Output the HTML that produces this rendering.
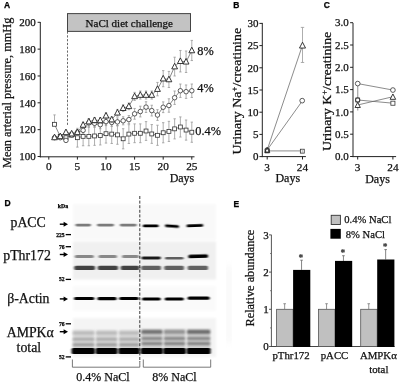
<!DOCTYPE html>
<html><head><meta charset="utf-8"><title>Figure</title>
<style>html,body{margin:0;padding:0;background:#fff;}svg{display:block;will-change:transform;}</style></head>
<body>
<svg width="400" height="385" viewBox="0 0 400 385">
<rect width="400" height="385" fill="#fff"/>
<text x="4" y="7.9" font-size="8.5" text-anchor="start" font-family="Liberation Sans, sans-serif" fill="#000" stroke="#000" stroke-width="0.25" font-weight="bold">A</text>
<text x="233.2" y="7.6" font-size="8.5" text-anchor="start" font-family="Liberation Sans, sans-serif" fill="#000" stroke="#000" stroke-width="0.25" font-weight="bold">B</text>
<text x="323.7" y="7.6" font-size="8.5" text-anchor="start" font-family="Liberation Sans, sans-serif" fill="#000" stroke="#000" stroke-width="0.25" font-weight="bold">C</text>
<text x="4.6" y="206.4" font-size="8.5" text-anchor="start" font-family="Liberation Sans, sans-serif" fill="#000" stroke="#000" stroke-width="0.25" font-weight="bold">D</text>
<text x="233.5" y="206.8" font-size="8.5" text-anchor="start" font-family="Liberation Sans, sans-serif" fill="#000" stroke="#000" stroke-width="0.25" font-weight="bold">E</text>
<rect x="67.5" y="13.6" width="123" height="17.8" fill="#c3c3c3" stroke="#444" stroke-width="1"/>
<text x="129.3" y="26.5" font-size="11" text-anchor="middle" font-family="Liberation Serif, serif" fill="#111" stroke="#111" stroke-width="0.25" >NaCl diet challenge</text>
<line x1="67.50" y1="31.50" x2="67.50" y2="125.00" stroke="#444" stroke-width="0.8" stroke-dasharray="2.2,1.6"/>
<line x1="40.30" y1="22.00" x2="40.30" y2="157.30" stroke="#222" stroke-width="1" />
<line x1="39.80" y1="156.80" x2="194.50" y2="156.80" stroke="#222" stroke-width="1" />
<line x1="37.60" y1="156.50" x2="40.30" y2="156.50" stroke="#222" stroke-width="1" />
<text x="35.8" y="160.3" font-size="11" text-anchor="end" font-family="Liberation Serif, serif" fill="#111" stroke="#111" stroke-width="0.25" >100</text>
<line x1="37.60" y1="129.66" x2="40.30" y2="129.66" stroke="#222" stroke-width="1" />
<text x="35.8" y="133.46" font-size="11" text-anchor="end" font-family="Liberation Serif, serif" fill="#111" stroke="#111" stroke-width="0.25" >120</text>
<line x1="37.60" y1="102.82" x2="40.30" y2="102.82" stroke="#222" stroke-width="1" />
<text x="35.8" y="106.61999999999999" font-size="11" text-anchor="end" font-family="Liberation Serif, serif" fill="#111" stroke="#111" stroke-width="0.25" >140</text>
<line x1="37.60" y1="75.98" x2="40.30" y2="75.98" stroke="#222" stroke-width="1" />
<text x="35.8" y="79.77999999999999" font-size="11" text-anchor="end" font-family="Liberation Serif, serif" fill="#111" stroke="#111" stroke-width="0.25" >160</text>
<line x1="37.60" y1="49.14" x2="40.30" y2="49.14" stroke="#222" stroke-width="1" />
<text x="35.8" y="52.93999999999998" font-size="11" text-anchor="end" font-family="Liberation Serif, serif" fill="#111" stroke="#111" stroke-width="0.25" >180</text>
<line x1="37.60" y1="22.30" x2="40.30" y2="22.30" stroke="#222" stroke-width="1" />
<text x="35.8" y="26.099999999999984" font-size="11" text-anchor="end" font-family="Liberation Serif, serif" fill="#111" stroke="#111" stroke-width="0.25" >200</text>
<line x1="48.80" y1="156.80" x2="48.80" y2="159.60" stroke="#222" stroke-width="1" />
<text x="48.8" y="170.4" font-size="11.3" text-anchor="middle" font-family="Liberation Serif, serif" fill="#111" stroke="#111" stroke-width="0.25" >0</text>
<line x1="77.40" y1="156.80" x2="77.40" y2="159.60" stroke="#222" stroke-width="1" />
<text x="77.39999999999999" y="170.4" font-size="11.3" text-anchor="middle" font-family="Liberation Serif, serif" fill="#111" stroke="#111" stroke-width="0.25" >5</text>
<line x1="106.00" y1="156.80" x2="106.00" y2="159.60" stroke="#222" stroke-width="1" />
<text x="106.0" y="170.4" font-size="11.3" text-anchor="middle" font-family="Liberation Serif, serif" fill="#111" stroke="#111" stroke-width="0.25" >10</text>
<line x1="134.60" y1="156.80" x2="134.60" y2="159.60" stroke="#222" stroke-width="1" />
<text x="134.6" y="170.4" font-size="11.3" text-anchor="middle" font-family="Liberation Serif, serif" fill="#111" stroke="#111" stroke-width="0.25" >15</text>
<line x1="163.20" y1="156.80" x2="163.20" y2="159.60" stroke="#222" stroke-width="1" />
<text x="163.2" y="170.4" font-size="11.3" text-anchor="middle" font-family="Liberation Serif, serif" fill="#111" stroke="#111" stroke-width="0.25" >20</text>
<line x1="191.80" y1="156.80" x2="191.80" y2="159.60" stroke="#222" stroke-width="1" />
<text x="191.8" y="170.4" font-size="11.3" text-anchor="middle" font-family="Liberation Serif, serif" fill="#111" stroke="#111" stroke-width="0.25" >25</text>
<text x="194.3" y="181.7" font-size="12" text-anchor="end" font-family="Liberation Serif, serif" fill="#111" stroke="#111" stroke-width="0.25" >Days</text>
<text transform="translate(10.7,92.85) rotate(-90)" font-size="12.8" text-anchor="middle" font-family="Liberation Serif, serif" fill="#111" stroke="#111" stroke-width="0.25" textLength="150.3" lengthAdjust="spacingAndGlyphs">Mean arterial pressure, mmHg</text>
<line x1="54.52" y1="114.90" x2="54.52" y2="124.29" stroke="#999" stroke-width="0.8" />
<line x1="53.32" y1="114.90" x2="55.72" y2="114.90" stroke="#999" stroke-width="0.8" />
<line x1="60.24" y1="135.03" x2="60.24" y2="137.71" stroke="#999" stroke-width="0.8" />
<line x1="59.04" y1="135.03" x2="61.44" y2="135.03" stroke="#999" stroke-width="0.8" />
<line x1="59.04" y1="137.71" x2="61.44" y2="137.71" stroke="#999" stroke-width="0.8" />
<line x1="65.96" y1="136.37" x2="65.96" y2="139.05" stroke="#999" stroke-width="0.8" />
<line x1="64.76" y1="136.37" x2="67.16" y2="136.37" stroke="#999" stroke-width="0.8" />
<line x1="64.76" y1="139.05" x2="67.16" y2="139.05" stroke="#999" stroke-width="0.8" />
<line x1="71.68" y1="133.69" x2="71.68" y2="136.37" stroke="#999" stroke-width="0.8" />
<line x1="70.48" y1="133.69" x2="72.88" y2="133.69" stroke="#999" stroke-width="0.8" />
<line x1="70.48" y1="136.37" x2="72.88" y2="136.37" stroke="#999" stroke-width="0.8" />
<line x1="77.40" y1="128.32" x2="77.40" y2="147.11" stroke="#999" stroke-width="0.8" />
<line x1="76.20" y1="128.32" x2="78.60" y2="128.32" stroke="#999" stroke-width="0.8" />
<line x1="76.20" y1="147.11" x2="78.60" y2="147.11" stroke="#999" stroke-width="0.8" />
<line x1="83.12" y1="126.98" x2="83.12" y2="145.76" stroke="#999" stroke-width="0.8" />
<line x1="81.92" y1="126.98" x2="84.32" y2="126.98" stroke="#999" stroke-width="0.8" />
<line x1="81.92" y1="145.76" x2="84.32" y2="145.76" stroke="#999" stroke-width="0.8" />
<line x1="88.84" y1="126.98" x2="88.84" y2="145.76" stroke="#999" stroke-width="0.8" />
<line x1="87.64" y1="126.98" x2="90.04" y2="126.98" stroke="#999" stroke-width="0.8" />
<line x1="87.64" y1="145.76" x2="90.04" y2="145.76" stroke="#999" stroke-width="0.8" />
<line x1="94.56" y1="126.57" x2="94.56" y2="145.36" stroke="#999" stroke-width="0.8" />
<line x1="93.36" y1="126.57" x2="95.76" y2="126.57" stroke="#999" stroke-width="0.8" />
<line x1="93.36" y1="145.36" x2="95.76" y2="145.36" stroke="#999" stroke-width="0.8" />
<line x1="100.28" y1="126.17" x2="100.28" y2="144.96" stroke="#999" stroke-width="0.8" />
<line x1="99.08" y1="126.17" x2="101.48" y2="126.17" stroke="#999" stroke-width="0.8" />
<line x1="99.08" y1="144.96" x2="101.48" y2="144.96" stroke="#999" stroke-width="0.8" />
<line x1="106.00" y1="124.29" x2="106.00" y2="143.08" stroke="#999" stroke-width="0.8" />
<line x1="104.80" y1="124.29" x2="107.20" y2="124.29" stroke="#999" stroke-width="0.8" />
<line x1="104.80" y1="143.08" x2="107.20" y2="143.08" stroke="#999" stroke-width="0.8" />
<line x1="111.72" y1="124.69" x2="111.72" y2="143.48" stroke="#999" stroke-width="0.8" />
<line x1="110.52" y1="124.69" x2="112.92" y2="124.69" stroke="#999" stroke-width="0.8" />
<line x1="110.52" y1="143.48" x2="112.92" y2="143.48" stroke="#999" stroke-width="0.8" />
<line x1="117.44" y1="125.50" x2="117.44" y2="144.29" stroke="#999" stroke-width="0.8" />
<line x1="116.24" y1="125.50" x2="118.64" y2="125.50" stroke="#999" stroke-width="0.8" />
<line x1="116.24" y1="144.29" x2="118.64" y2="144.29" stroke="#999" stroke-width="0.8" />
<line x1="123.16" y1="128.72" x2="123.16" y2="148.85" stroke="#999" stroke-width="0.8" />
<line x1="121.96" y1="128.72" x2="124.36" y2="128.72" stroke="#999" stroke-width="0.8" />
<line x1="121.96" y1="148.85" x2="124.36" y2="148.85" stroke="#999" stroke-width="0.8" />
<line x1="128.88" y1="124.69" x2="128.88" y2="143.48" stroke="#999" stroke-width="0.8" />
<line x1="127.68" y1="124.69" x2="130.08" y2="124.69" stroke="#999" stroke-width="0.8" />
<line x1="127.68" y1="143.48" x2="130.08" y2="143.48" stroke="#999" stroke-width="0.8" />
<line x1="134.60" y1="123.89" x2="134.60" y2="142.68" stroke="#999" stroke-width="0.8" />
<line x1="133.40" y1="123.89" x2="135.80" y2="123.89" stroke="#999" stroke-width="0.8" />
<line x1="133.40" y1="142.68" x2="135.80" y2="142.68" stroke="#999" stroke-width="0.8" />
<line x1="140.32" y1="123.89" x2="140.32" y2="142.68" stroke="#999" stroke-width="0.8" />
<line x1="139.12" y1="123.89" x2="141.52" y2="123.89" stroke="#999" stroke-width="0.8" />
<line x1="139.12" y1="142.68" x2="141.52" y2="142.68" stroke="#999" stroke-width="0.8" />
<line x1="146.04" y1="121.61" x2="146.04" y2="140.40" stroke="#999" stroke-width="0.8" />
<line x1="144.84" y1="121.61" x2="147.24" y2="121.61" stroke="#999" stroke-width="0.8" />
<line x1="144.84" y1="140.40" x2="147.24" y2="140.40" stroke="#999" stroke-width="0.8" />
<line x1="151.76" y1="124.56" x2="151.76" y2="143.35" stroke="#999" stroke-width="0.8" />
<line x1="150.56" y1="124.56" x2="152.96" y2="124.56" stroke="#999" stroke-width="0.8" />
<line x1="150.56" y1="143.35" x2="152.96" y2="143.35" stroke="#999" stroke-width="0.8" />
<line x1="157.48" y1="125.23" x2="157.48" y2="145.36" stroke="#999" stroke-width="0.8" />
<line x1="156.28" y1="125.23" x2="158.68" y2="125.23" stroke="#999" stroke-width="0.8" />
<line x1="156.28" y1="145.36" x2="158.68" y2="145.36" stroke="#999" stroke-width="0.8" />
<line x1="163.20" y1="122.68" x2="163.20" y2="142.81" stroke="#999" stroke-width="0.8" />
<line x1="162.00" y1="122.68" x2="164.40" y2="122.68" stroke="#999" stroke-width="0.8" />
<line x1="162.00" y1="142.81" x2="164.40" y2="142.81" stroke="#999" stroke-width="0.8" />
<line x1="168.92" y1="121.34" x2="168.92" y2="141.47" stroke="#999" stroke-width="0.8" />
<line x1="167.72" y1="121.34" x2="170.12" y2="121.34" stroke="#999" stroke-width="0.8" />
<line x1="167.72" y1="141.47" x2="170.12" y2="141.47" stroke="#999" stroke-width="0.8" />
<line x1="174.64" y1="118.79" x2="174.64" y2="138.92" stroke="#999" stroke-width="0.8" />
<line x1="173.44" y1="118.79" x2="175.84" y2="118.79" stroke="#999" stroke-width="0.8" />
<line x1="173.44" y1="138.92" x2="175.84" y2="138.92" stroke="#999" stroke-width="0.8" />
<line x1="180.36" y1="116.91" x2="180.36" y2="137.04" stroke="#999" stroke-width="0.8" />
<line x1="179.16" y1="116.91" x2="181.56" y2="116.91" stroke="#999" stroke-width="0.8" />
<line x1="179.16" y1="137.04" x2="181.56" y2="137.04" stroke="#999" stroke-width="0.8" />
<line x1="186.08" y1="120.00" x2="186.08" y2="140.13" stroke="#999" stroke-width="0.8" />
<line x1="184.88" y1="120.00" x2="187.28" y2="120.00" stroke="#999" stroke-width="0.8" />
<line x1="184.88" y1="140.13" x2="187.28" y2="140.13" stroke="#999" stroke-width="0.8" />
<line x1="191.80" y1="122.14" x2="191.80" y2="142.27" stroke="#999" stroke-width="0.8" />
<line x1="190.60" y1="122.14" x2="193.00" y2="122.14" stroke="#999" stroke-width="0.8" />
<line x1="190.60" y1="142.27" x2="193.00" y2="142.27" stroke="#999" stroke-width="0.8" />
<polyline fill="none" stroke="#555" stroke-width="0.7" points="54.5,124.3 60.2,136.4 66.0,137.7 71.7,135.0 77.4,137.7 83.1,136.4 88.8,136.4 94.6,136.0 100.3,135.6 106.0,133.7 111.7,134.1 117.4,134.9 123.2,138.8 128.9,134.1 134.6,133.3 140.3,133.3 146.0,131.0 151.8,134.0 157.5,135.3 163.2,132.7 168.9,131.4 174.6,128.9 180.4,127.0 186.1,130.1 191.8,132.2"/>
<rect x="52.57" y="122.34" width="3.90" height="3.90" fill="#fff" stroke="#333" stroke-width="0.8"/>
<rect x="58.29" y="134.42" width="3.90" height="3.90" fill="#fff" stroke="#333" stroke-width="0.8"/>
<rect x="64.01" y="135.76" width="3.90" height="3.90" fill="#fff" stroke="#333" stroke-width="0.8"/>
<rect x="69.73" y="133.08" width="3.90" height="3.90" fill="#fff" stroke="#333" stroke-width="0.8"/>
<rect x="75.45" y="135.76" width="3.90" height="3.90" fill="#fff" stroke="#333" stroke-width="0.8"/>
<rect x="81.17" y="134.42" width="3.90" height="3.90" fill="#fff" stroke="#333" stroke-width="0.8"/>
<rect x="86.89" y="134.42" width="3.90" height="3.90" fill="#fff" stroke="#333" stroke-width="0.8"/>
<rect x="92.61" y="134.02" width="3.90" height="3.90" fill="#fff" stroke="#333" stroke-width="0.8"/>
<rect x="98.33" y="133.61" width="3.90" height="3.90" fill="#fff" stroke="#333" stroke-width="0.8"/>
<rect x="104.05" y="131.74" width="3.90" height="3.90" fill="#fff" stroke="#333" stroke-width="0.8"/>
<rect x="109.77" y="132.14" width="3.90" height="3.90" fill="#fff" stroke="#333" stroke-width="0.8"/>
<rect x="115.49" y="132.94" width="3.90" height="3.90" fill="#fff" stroke="#333" stroke-width="0.8"/>
<rect x="121.21" y="136.84" width="3.90" height="3.90" fill="#fff" stroke="#333" stroke-width="0.8"/>
<rect x="126.93" y="132.14" width="3.90" height="3.90" fill="#fff" stroke="#333" stroke-width="0.8"/>
<rect x="132.65" y="131.33" width="3.90" height="3.90" fill="#fff" stroke="#333" stroke-width="0.8"/>
<rect x="138.37" y="131.33" width="3.90" height="3.90" fill="#fff" stroke="#333" stroke-width="0.8"/>
<rect x="144.09" y="129.05" width="3.90" height="3.90" fill="#fff" stroke="#333" stroke-width="0.8"/>
<rect x="149.81" y="132.00" width="3.90" height="3.90" fill="#fff" stroke="#333" stroke-width="0.8"/>
<rect x="155.53" y="133.35" width="3.90" height="3.90" fill="#fff" stroke="#333" stroke-width="0.8"/>
<rect x="161.25" y="130.80" width="3.90" height="3.90" fill="#fff" stroke="#333" stroke-width="0.8"/>
<rect x="166.97" y="129.45" width="3.90" height="3.90" fill="#fff" stroke="#333" stroke-width="0.8"/>
<rect x="172.69" y="126.90" width="3.90" height="3.90" fill="#fff" stroke="#333" stroke-width="0.8"/>
<rect x="178.41" y="125.03" width="3.90" height="3.90" fill="#fff" stroke="#333" stroke-width="0.8"/>
<rect x="184.13" y="128.11" width="3.90" height="3.90" fill="#fff" stroke="#333" stroke-width="0.8"/>
<rect x="189.85" y="130.26" width="3.90" height="3.90" fill="#fff" stroke="#333" stroke-width="0.8"/>
<line x1="54.52" y1="136.37" x2="54.52" y2="139.05" stroke="#999" stroke-width="0.8" />
<line x1="53.32" y1="136.37" x2="55.72" y2="136.37" stroke="#999" stroke-width="0.8" />
<line x1="53.32" y1="139.05" x2="55.72" y2="139.05" stroke="#999" stroke-width="0.8" />
<line x1="60.24" y1="136.37" x2="60.24" y2="139.05" stroke="#999" stroke-width="0.8" />
<line x1="59.04" y1="136.37" x2="61.44" y2="136.37" stroke="#999" stroke-width="0.8" />
<line x1="59.04" y1="139.05" x2="61.44" y2="139.05" stroke="#999" stroke-width="0.8" />
<line x1="65.96" y1="139.05" x2="65.96" y2="141.74" stroke="#999" stroke-width="0.8" />
<line x1="64.76" y1="139.05" x2="67.16" y2="139.05" stroke="#999" stroke-width="0.8" />
<line x1="64.76" y1="141.74" x2="67.16" y2="141.74" stroke="#999" stroke-width="0.8" />
<line x1="71.68" y1="133.69" x2="71.68" y2="136.37" stroke="#999" stroke-width="0.8" />
<line x1="70.48" y1="133.69" x2="72.88" y2="133.69" stroke="#999" stroke-width="0.8" />
<line x1="70.48" y1="136.37" x2="72.88" y2="136.37" stroke="#999" stroke-width="0.8" />
<line x1="77.40" y1="129.66" x2="77.40" y2="135.03" stroke="#999" stroke-width="0.8" />
<line x1="76.20" y1="129.66" x2="78.60" y2="129.66" stroke="#999" stroke-width="0.8" />
<line x1="76.20" y1="135.03" x2="78.60" y2="135.03" stroke="#999" stroke-width="0.8" />
<line x1="83.12" y1="127.65" x2="83.12" y2="133.01" stroke="#999" stroke-width="0.8" />
<line x1="81.92" y1="127.65" x2="84.32" y2="127.65" stroke="#999" stroke-width="0.8" />
<line x1="81.92" y1="133.01" x2="84.32" y2="133.01" stroke="#999" stroke-width="0.8" />
<line x1="88.84" y1="118.92" x2="88.84" y2="126.98" stroke="#999" stroke-width="0.8" />
<line x1="87.64" y1="118.92" x2="90.04" y2="118.92" stroke="#999" stroke-width="0.8" />
<line x1="87.64" y1="126.98" x2="90.04" y2="126.98" stroke="#999" stroke-width="0.8" />
<line x1="94.56" y1="119.33" x2="94.56" y2="127.38" stroke="#999" stroke-width="0.8" />
<line x1="93.36" y1="119.33" x2="95.76" y2="119.33" stroke="#999" stroke-width="0.8" />
<line x1="93.36" y1="127.38" x2="95.76" y2="127.38" stroke="#999" stroke-width="0.8" />
<line x1="100.28" y1="120.67" x2="100.28" y2="128.72" stroke="#999" stroke-width="0.8" />
<line x1="99.08" y1="120.67" x2="101.48" y2="120.67" stroke="#999" stroke-width="0.8" />
<line x1="99.08" y1="128.72" x2="101.48" y2="128.72" stroke="#999" stroke-width="0.8" />
<line x1="106.00" y1="117.58" x2="106.00" y2="125.63" stroke="#999" stroke-width="0.8" />
<line x1="104.80" y1="117.58" x2="107.20" y2="117.58" stroke="#999" stroke-width="0.8" />
<line x1="104.80" y1="125.63" x2="107.20" y2="125.63" stroke="#999" stroke-width="0.8" />
<line x1="111.72" y1="118.39" x2="111.72" y2="126.44" stroke="#999" stroke-width="0.8" />
<line x1="110.52" y1="118.39" x2="112.92" y2="118.39" stroke="#999" stroke-width="0.8" />
<line x1="110.52" y1="126.44" x2="112.92" y2="126.44" stroke="#999" stroke-width="0.8" />
<line x1="117.44" y1="117.85" x2="117.44" y2="125.90" stroke="#999" stroke-width="0.8" />
<line x1="116.24" y1="117.85" x2="118.64" y2="117.85" stroke="#999" stroke-width="0.8" />
<line x1="116.24" y1="125.90" x2="118.64" y2="125.90" stroke="#999" stroke-width="0.8" />
<line x1="123.16" y1="116.78" x2="123.16" y2="124.83" stroke="#999" stroke-width="0.8" />
<line x1="121.96" y1="116.78" x2="124.36" y2="116.78" stroke="#999" stroke-width="0.8" />
<line x1="121.96" y1="124.83" x2="124.36" y2="124.83" stroke="#999" stroke-width="0.8" />
<line x1="128.88" y1="115.57" x2="128.88" y2="123.62" stroke="#999" stroke-width="0.8" />
<line x1="127.68" y1="115.57" x2="130.08" y2="115.57" stroke="#999" stroke-width="0.8" />
<line x1="127.68" y1="123.62" x2="130.08" y2="123.62" stroke="#999" stroke-width="0.8" />
<line x1="134.60" y1="108.46" x2="134.60" y2="119.19" stroke="#999" stroke-width="0.8" />
<line x1="133.40" y1="108.46" x2="135.80" y2="108.46" stroke="#999" stroke-width="0.8" />
<line x1="133.40" y1="119.19" x2="135.80" y2="119.19" stroke="#999" stroke-width="0.8" />
<line x1="140.32" y1="106.18" x2="140.32" y2="116.91" stroke="#999" stroke-width="0.8" />
<line x1="139.12" y1="106.18" x2="141.52" y2="106.18" stroke="#999" stroke-width="0.8" />
<line x1="139.12" y1="116.91" x2="141.52" y2="116.91" stroke="#999" stroke-width="0.8" />
<line x1="146.04" y1="101.75" x2="146.04" y2="112.48" stroke="#999" stroke-width="0.8" />
<line x1="144.84" y1="101.75" x2="147.24" y2="101.75" stroke="#999" stroke-width="0.8" />
<line x1="144.84" y1="112.48" x2="147.24" y2="112.48" stroke="#999" stroke-width="0.8" />
<line x1="151.76" y1="105.24" x2="151.76" y2="115.97" stroke="#999" stroke-width="0.8" />
<line x1="150.56" y1="105.24" x2="152.96" y2="105.24" stroke="#999" stroke-width="0.8" />
<line x1="150.56" y1="115.97" x2="152.96" y2="115.97" stroke="#999" stroke-width="0.8" />
<line x1="157.48" y1="109.66" x2="157.48" y2="120.40" stroke="#999" stroke-width="0.8" />
<line x1="156.28" y1="109.66" x2="158.68" y2="109.66" stroke="#999" stroke-width="0.8" />
<line x1="156.28" y1="120.40" x2="158.68" y2="120.40" stroke="#999" stroke-width="0.8" />
<line x1="163.20" y1="101.88" x2="163.20" y2="112.62" stroke="#999" stroke-width="0.8" />
<line x1="162.00" y1="101.88" x2="164.40" y2="101.88" stroke="#999" stroke-width="0.8" />
<line x1="162.00" y1="112.62" x2="164.40" y2="112.62" stroke="#999" stroke-width="0.8" />
<line x1="168.92" y1="98.79" x2="168.92" y2="112.21" stroke="#999" stroke-width="0.8" />
<line x1="167.72" y1="98.79" x2="170.12" y2="98.79" stroke="#999" stroke-width="0.8" />
<line x1="167.72" y1="112.21" x2="170.12" y2="112.21" stroke="#999" stroke-width="0.8" />
<line x1="174.64" y1="91.01" x2="174.64" y2="104.43" stroke="#999" stroke-width="0.8" />
<line x1="173.44" y1="91.01" x2="175.84" y2="91.01" stroke="#999" stroke-width="0.8" />
<line x1="173.44" y1="104.43" x2="175.84" y2="104.43" stroke="#999" stroke-width="0.8" />
<line x1="180.36" y1="84.03" x2="180.36" y2="97.45" stroke="#999" stroke-width="0.8" />
<line x1="179.16" y1="84.03" x2="181.56" y2="84.03" stroke="#999" stroke-width="0.8" />
<line x1="179.16" y1="97.45" x2="181.56" y2="97.45" stroke="#999" stroke-width="0.8" />
<line x1="186.08" y1="84.97" x2="186.08" y2="98.39" stroke="#999" stroke-width="0.8" />
<line x1="184.88" y1="84.97" x2="187.28" y2="84.97" stroke="#999" stroke-width="0.8" />
<line x1="184.88" y1="98.39" x2="187.28" y2="98.39" stroke="#999" stroke-width="0.8" />
<line x1="191.80" y1="84.03" x2="191.80" y2="97.45" stroke="#999" stroke-width="0.8" />
<line x1="190.60" y1="84.03" x2="193.00" y2="84.03" stroke="#999" stroke-width="0.8" />
<line x1="190.60" y1="97.45" x2="193.00" y2="97.45" stroke="#999" stroke-width="0.8" />
<polyline fill="none" stroke="#555" stroke-width="0.7" points="54.5,137.7 60.2,137.7 66.0,140.4 71.7,135.0 77.4,132.3 83.1,130.3 88.8,122.9 94.6,123.4 100.3,124.7 106.0,121.6 111.7,122.4 117.4,121.9 123.2,120.8 128.9,119.6 134.6,113.8 140.3,111.5 146.0,107.1 151.8,110.6 157.5,115.0 163.2,107.2 168.9,105.5 174.6,97.7 180.4,90.7 186.1,91.7 191.8,90.7"/>
<circle cx="54.52" cy="137.71" r="2.25" fill="#fff" stroke="#333" stroke-width="0.8"/>
<circle cx="60.24" cy="137.71" r="2.25" fill="#fff" stroke="#333" stroke-width="0.8"/>
<circle cx="65.96" cy="140.40" r="2.25" fill="#fff" stroke="#333" stroke-width="0.8"/>
<circle cx="71.68" cy="135.03" r="2.25" fill="#fff" stroke="#333" stroke-width="0.8"/>
<circle cx="77.40" cy="132.34" r="2.25" fill="#fff" stroke="#333" stroke-width="0.8"/>
<circle cx="83.12" cy="130.33" r="2.25" fill="#fff" stroke="#333" stroke-width="0.8"/>
<circle cx="88.84" cy="122.95" r="2.25" fill="#fff" stroke="#333" stroke-width="0.8"/>
<circle cx="94.56" cy="123.35" r="2.25" fill="#fff" stroke="#333" stroke-width="0.8"/>
<circle cx="100.28" cy="124.69" r="2.25" fill="#fff" stroke="#333" stroke-width="0.8"/>
<circle cx="106.00" cy="121.61" r="2.25" fill="#fff" stroke="#333" stroke-width="0.8"/>
<circle cx="111.72" cy="122.41" r="2.25" fill="#fff" stroke="#333" stroke-width="0.8"/>
<circle cx="117.44" cy="121.88" r="2.25" fill="#fff" stroke="#333" stroke-width="0.8"/>
<circle cx="123.16" cy="120.80" r="2.25" fill="#fff" stroke="#333" stroke-width="0.8"/>
<circle cx="128.88" cy="119.59" r="2.25" fill="#fff" stroke="#333" stroke-width="0.8"/>
<circle cx="134.60" cy="113.82" r="2.25" fill="#fff" stroke="#333" stroke-width="0.8"/>
<circle cx="140.32" cy="111.54" r="2.25" fill="#fff" stroke="#333" stroke-width="0.8"/>
<circle cx="146.04" cy="107.11" r="2.25" fill="#fff" stroke="#333" stroke-width="0.8"/>
<circle cx="151.76" cy="110.60" r="2.25" fill="#fff" stroke="#333" stroke-width="0.8"/>
<circle cx="157.48" cy="115.03" r="2.25" fill="#fff" stroke="#333" stroke-width="0.8"/>
<circle cx="163.20" cy="107.25" r="2.25" fill="#fff" stroke="#333" stroke-width="0.8"/>
<circle cx="168.92" cy="105.50" r="2.25" fill="#fff" stroke="#333" stroke-width="0.8"/>
<circle cx="174.64" cy="97.72" r="2.25" fill="#fff" stroke="#333" stroke-width="0.8"/>
<circle cx="180.36" cy="90.74" r="2.25" fill="#fff" stroke="#333" stroke-width="0.8"/>
<circle cx="186.08" cy="91.68" r="2.25" fill="#fff" stroke="#333" stroke-width="0.8"/>
<circle cx="191.80" cy="90.74" r="2.25" fill="#fff" stroke="#333" stroke-width="0.8"/>
<line x1="54.52" y1="136.10" x2="54.52" y2="138.79" stroke="#999" stroke-width="0.8" />
<line x1="53.32" y1="136.10" x2="55.72" y2="136.10" stroke="#999" stroke-width="0.8" />
<line x1="53.32" y1="138.79" x2="55.72" y2="138.79" stroke="#999" stroke-width="0.8" />
<line x1="60.24" y1="135.03" x2="60.24" y2="137.71" stroke="#999" stroke-width="0.8" />
<line x1="59.04" y1="135.03" x2="61.44" y2="135.03" stroke="#999" stroke-width="0.8" />
<line x1="59.04" y1="137.71" x2="61.44" y2="137.71" stroke="#999" stroke-width="0.8" />
<line x1="65.96" y1="131.00" x2="65.96" y2="133.69" stroke="#999" stroke-width="0.8" />
<line x1="64.76" y1="131.00" x2="67.16" y2="131.00" stroke="#999" stroke-width="0.8" />
<line x1="64.76" y1="133.69" x2="67.16" y2="133.69" stroke="#999" stroke-width="0.8" />
<line x1="71.68" y1="132.34" x2="71.68" y2="135.03" stroke="#999" stroke-width="0.8" />
<line x1="70.48" y1="132.34" x2="72.88" y2="132.34" stroke="#999" stroke-width="0.8" />
<line x1="70.48" y1="135.03" x2="72.88" y2="135.03" stroke="#999" stroke-width="0.8" />
<line x1="77.40" y1="129.66" x2="77.40" y2="135.03" stroke="#999" stroke-width="0.8" />
<line x1="76.20" y1="129.66" x2="78.60" y2="129.66" stroke="#999" stroke-width="0.8" />
<line x1="76.20" y1="135.03" x2="78.60" y2="135.03" stroke="#999" stroke-width="0.8" />
<line x1="83.12" y1="122.28" x2="83.12" y2="127.65" stroke="#999" stroke-width="0.8" />
<line x1="81.92" y1="122.28" x2="84.32" y2="122.28" stroke="#999" stroke-width="0.8" />
<line x1="81.92" y1="127.65" x2="84.32" y2="127.65" stroke="#999" stroke-width="0.8" />
<line x1="88.84" y1="118.92" x2="88.84" y2="124.29" stroke="#999" stroke-width="0.8" />
<line x1="87.64" y1="118.92" x2="90.04" y2="118.92" stroke="#999" stroke-width="0.8" />
<line x1="87.64" y1="124.29" x2="90.04" y2="124.29" stroke="#999" stroke-width="0.8" />
<line x1="94.56" y1="117.58" x2="94.56" y2="122.95" stroke="#999" stroke-width="0.8" />
<line x1="93.36" y1="117.58" x2="95.76" y2="117.58" stroke="#999" stroke-width="0.8" />
<line x1="93.36" y1="122.95" x2="95.76" y2="122.95" stroke="#999" stroke-width="0.8" />
<line x1="100.28" y1="117.72" x2="100.28" y2="123.08" stroke="#999" stroke-width="0.8" />
<line x1="99.08" y1="117.72" x2="101.48" y2="117.72" stroke="#999" stroke-width="0.8" />
<line x1="99.08" y1="123.08" x2="101.48" y2="123.08" stroke="#999" stroke-width="0.8" />
<line x1="106.00" y1="113.02" x2="106.00" y2="118.39" stroke="#999" stroke-width="0.8" />
<line x1="104.80" y1="113.02" x2="107.20" y2="113.02" stroke="#999" stroke-width="0.8" />
<line x1="104.80" y1="118.39" x2="107.20" y2="118.39" stroke="#999" stroke-width="0.8" />
<line x1="111.72" y1="116.91" x2="111.72" y2="122.28" stroke="#999" stroke-width="0.8" />
<line x1="110.52" y1="116.91" x2="112.92" y2="116.91" stroke="#999" stroke-width="0.8" />
<line x1="110.52" y1="122.28" x2="112.92" y2="122.28" stroke="#999" stroke-width="0.8" />
<line x1="117.44" y1="109.40" x2="117.44" y2="116.11" stroke="#999" stroke-width="0.8" />
<line x1="116.24" y1="109.40" x2="118.64" y2="109.40" stroke="#999" stroke-width="0.8" />
<line x1="116.24" y1="116.11" x2="118.64" y2="116.11" stroke="#999" stroke-width="0.8" />
<line x1="123.16" y1="104.83" x2="123.16" y2="111.54" stroke="#999" stroke-width="0.8" />
<line x1="121.96" y1="104.83" x2="124.36" y2="104.83" stroke="#999" stroke-width="0.8" />
<line x1="121.96" y1="111.54" x2="124.36" y2="111.54" stroke="#999" stroke-width="0.8" />
<line x1="128.88" y1="102.95" x2="128.88" y2="109.66" stroke="#999" stroke-width="0.8" />
<line x1="127.68" y1="102.95" x2="130.08" y2="102.95" stroke="#999" stroke-width="0.8" />
<line x1="127.68" y1="109.66" x2="130.08" y2="109.66" stroke="#999" stroke-width="0.8" />
<line x1="134.60" y1="92.35" x2="134.60" y2="100.40" stroke="#999" stroke-width="0.8" />
<line x1="133.40" y1="92.35" x2="135.80" y2="92.35" stroke="#999" stroke-width="0.8" />
<line x1="133.40" y1="100.40" x2="135.80" y2="100.40" stroke="#999" stroke-width="0.8" />
<line x1="140.32" y1="91.01" x2="140.32" y2="99.06" stroke="#999" stroke-width="0.8" />
<line x1="139.12" y1="91.01" x2="141.52" y2="91.01" stroke="#999" stroke-width="0.8" />
<line x1="139.12" y1="99.06" x2="141.52" y2="99.06" stroke="#999" stroke-width="0.8" />
<line x1="146.04" y1="91.01" x2="146.04" y2="99.06" stroke="#999" stroke-width="0.8" />
<line x1="144.84" y1="91.01" x2="147.24" y2="91.01" stroke="#999" stroke-width="0.8" />
<line x1="144.84" y1="99.06" x2="147.24" y2="99.06" stroke="#999" stroke-width="0.8" />
<line x1="151.76" y1="91.01" x2="151.76" y2="99.06" stroke="#999" stroke-width="0.8" />
<line x1="150.56" y1="91.01" x2="152.96" y2="91.01" stroke="#999" stroke-width="0.8" />
<line x1="150.56" y1="99.06" x2="152.96" y2="99.06" stroke="#999" stroke-width="0.8" />
<line x1="157.48" y1="82.42" x2="157.48" y2="95.84" stroke="#999" stroke-width="0.8" />
<line x1="156.28" y1="82.42" x2="158.68" y2="82.42" stroke="#999" stroke-width="0.8" />
<line x1="156.28" y1="95.84" x2="158.68" y2="95.84" stroke="#999" stroke-width="0.8" />
<line x1="163.20" y1="70.61" x2="163.20" y2="86.72" stroke="#999" stroke-width="0.8" />
<line x1="162.00" y1="70.61" x2="164.40" y2="70.61" stroke="#999" stroke-width="0.8" />
<line x1="162.00" y1="86.72" x2="164.40" y2="86.72" stroke="#999" stroke-width="0.8" />
<line x1="168.92" y1="71.42" x2="168.92" y2="87.52" stroke="#999" stroke-width="0.8" />
<line x1="167.72" y1="71.42" x2="170.12" y2="71.42" stroke="#999" stroke-width="0.8" />
<line x1="167.72" y1="87.52" x2="170.12" y2="87.52" stroke="#999" stroke-width="0.8" />
<line x1="174.64" y1="57.19" x2="174.64" y2="75.98" stroke="#999" stroke-width="0.8" />
<line x1="173.44" y1="57.19" x2="175.84" y2="57.19" stroke="#999" stroke-width="0.8" />
<line x1="173.44" y1="75.98" x2="175.84" y2="75.98" stroke="#999" stroke-width="0.8" />
<line x1="180.36" y1="50.48" x2="180.36" y2="71.95" stroke="#999" stroke-width="0.8" />
<line x1="179.16" y1="50.48" x2="181.56" y2="50.48" stroke="#999" stroke-width="0.8" />
<line x1="179.16" y1="71.95" x2="181.56" y2="71.95" stroke="#999" stroke-width="0.8" />
<line x1="186.08" y1="51.02" x2="186.08" y2="72.49" stroke="#999" stroke-width="0.8" />
<line x1="184.88" y1="51.02" x2="187.28" y2="51.02" stroke="#999" stroke-width="0.8" />
<line x1="184.88" y1="72.49" x2="187.28" y2="72.49" stroke="#999" stroke-width="0.8" />
<line x1="191.80" y1="40.42" x2="191.80" y2="60.55" stroke="#999" stroke-width="0.8" />
<line x1="190.60" y1="40.42" x2="193.00" y2="40.42" stroke="#999" stroke-width="0.8" />
<line x1="190.60" y1="60.55" x2="193.00" y2="60.55" stroke="#999" stroke-width="0.8" />
<polyline fill="none" stroke="#555" stroke-width="0.7" points="54.5,137.4 60.2,136.4 66.0,132.3 71.7,133.7 77.4,132.3 83.1,125.0 88.8,121.6 94.6,120.3 100.3,120.4 106.0,115.7 111.7,119.6 117.4,112.8 123.2,108.2 128.9,106.3 134.6,96.4 140.3,95.0 146.0,95.0 151.8,95.0 157.5,89.1 163.2,78.7 168.9,79.5 174.6,66.6 180.4,61.2 186.1,61.8 191.8,50.5"/>
<polygon points="54.52,134.14 51.62,139.74 57.42,139.74" fill="#fff" stroke="#222" stroke-width="0.9" stroke-linejoin="miter"/>
<polygon points="60.24,133.07 57.34,138.67 63.14,138.67" fill="#fff" stroke="#222" stroke-width="0.9" stroke-linejoin="miter"/>
<polygon points="65.96,129.04 63.06,134.64 68.86,134.64" fill="#fff" stroke="#222" stroke-width="0.9" stroke-linejoin="miter"/>
<polygon points="71.68,130.39 68.78,135.99 74.58,135.99" fill="#fff" stroke="#222" stroke-width="0.9" stroke-linejoin="miter"/>
<polygon points="77.40,129.04 74.50,134.64 80.30,134.64" fill="#fff" stroke="#222" stroke-width="0.9" stroke-linejoin="miter"/>
<polygon points="83.12,121.66 80.22,127.26 86.02,127.26" fill="#fff" stroke="#222" stroke-width="0.9" stroke-linejoin="miter"/>
<polygon points="88.84,118.31 85.94,123.91 91.74,123.91" fill="#fff" stroke="#222" stroke-width="0.9" stroke-linejoin="miter"/>
<polygon points="94.56,116.97 91.66,122.57 97.46,122.57" fill="#fff" stroke="#222" stroke-width="0.9" stroke-linejoin="miter"/>
<polygon points="100.28,117.10 97.38,122.70 103.18,122.70" fill="#fff" stroke="#222" stroke-width="0.9" stroke-linejoin="miter"/>
<polygon points="106.00,112.40 103.10,118.00 108.90,118.00" fill="#fff" stroke="#222" stroke-width="0.9" stroke-linejoin="miter"/>
<polygon points="111.72,116.30 108.82,121.89 114.62,121.89" fill="#fff" stroke="#222" stroke-width="0.9" stroke-linejoin="miter"/>
<polygon points="117.44,109.45 114.54,115.05 120.34,115.05" fill="#fff" stroke="#222" stroke-width="0.9" stroke-linejoin="miter"/>
<polygon points="123.16,104.89 120.26,110.49 126.06,110.49" fill="#fff" stroke="#222" stroke-width="0.9" stroke-linejoin="miter"/>
<polygon points="128.88,103.01 125.98,108.61 131.78,108.61" fill="#fff" stroke="#222" stroke-width="0.9" stroke-linejoin="miter"/>
<polygon points="134.60,93.08 131.70,98.68 137.50,98.68" fill="#fff" stroke="#222" stroke-width="0.9" stroke-linejoin="miter"/>
<polygon points="140.32,91.74 137.42,97.34 143.22,97.34" fill="#fff" stroke="#222" stroke-width="0.9" stroke-linejoin="miter"/>
<polygon points="146.04,91.74 143.14,97.34 148.94,97.34" fill="#fff" stroke="#222" stroke-width="0.9" stroke-linejoin="miter"/>
<polygon points="151.76,91.74 148.86,97.34 154.66,97.34" fill="#fff" stroke="#222" stroke-width="0.9" stroke-linejoin="miter"/>
<polygon points="157.48,85.83 154.58,91.43 160.38,91.43" fill="#fff" stroke="#222" stroke-width="0.9" stroke-linejoin="miter"/>
<polygon points="163.20,75.36 160.30,80.96 166.10,80.96" fill="#fff" stroke="#222" stroke-width="0.9" stroke-linejoin="miter"/>
<polygon points="168.92,76.17 166.02,81.77 171.82,81.77" fill="#fff" stroke="#222" stroke-width="0.9" stroke-linejoin="miter"/>
<polygon points="174.64,63.29 171.74,68.89 177.54,68.89" fill="#fff" stroke="#222" stroke-width="0.9" stroke-linejoin="miter"/>
<polygon points="180.36,57.92 177.46,63.52 183.26,63.52" fill="#fff" stroke="#222" stroke-width="0.9" stroke-linejoin="miter"/>
<polygon points="186.08,58.45 183.18,64.05 188.98,64.05" fill="#fff" stroke="#222" stroke-width="0.9" stroke-linejoin="miter"/>
<polygon points="191.80,47.18 188.90,52.78 194.70,52.78" fill="#fff" stroke="#222" stroke-width="0.9" stroke-linejoin="miter"/>
<text x="197.3" y="54.5" font-size="12.3" text-anchor="start" font-family="Liberation Serif, serif" fill="#111" stroke="#111" stroke-width="0.25" >8%</text>
<text x="197.3" y="91.7" font-size="12.3" text-anchor="start" font-family="Liberation Serif, serif" fill="#111" stroke="#111" stroke-width="0.25" >4%</text>
<text x="195.3" y="135.4" font-size="12.3" text-anchor="start" font-family="Liberation Serif, serif" fill="#111" stroke="#111" stroke-width="0.25" >0.4%</text>
<line x1="262.30" y1="22.90" x2="262.30" y2="157.10" stroke="#222" stroke-width="1" />
<line x1="261.80" y1="156.60" x2="305.90" y2="156.60" stroke="#222" stroke-width="1" />
<line x1="259.40" y1="156.60" x2="262.30" y2="156.60" stroke="#222" stroke-width="1" />
<text x="258.40000000000003" y="160.29999999999998" font-size="11" text-anchor="end" font-family="Liberation Serif, serif" fill="#111" stroke="#111" stroke-width="0.25" >0</text>
<line x1="259.40" y1="134.40" x2="262.30" y2="134.40" stroke="#222" stroke-width="1" />
<text x="258.40000000000003" y="138.09999999999997" font-size="11" text-anchor="end" font-family="Liberation Serif, serif" fill="#111" stroke="#111" stroke-width="0.25" >5</text>
<line x1="259.40" y1="112.20" x2="262.30" y2="112.20" stroke="#222" stroke-width="1" />
<text x="258.40000000000003" y="115.89999999999999" font-size="11" text-anchor="end" font-family="Liberation Serif, serif" fill="#111" stroke="#111" stroke-width="0.25" >10</text>
<line x1="259.40" y1="90.00" x2="262.30" y2="90.00" stroke="#222" stroke-width="1" />
<text x="258.40000000000003" y="93.69999999999999" font-size="11" text-anchor="end" font-family="Liberation Serif, serif" fill="#111" stroke="#111" stroke-width="0.25" >15</text>
<line x1="259.40" y1="67.80" x2="262.30" y2="67.80" stroke="#222" stroke-width="1" />
<text x="258.40000000000003" y="71.49999999999999" font-size="11" text-anchor="end" font-family="Liberation Serif, serif" fill="#111" stroke="#111" stroke-width="0.25" >20</text>
<line x1="259.40" y1="45.60" x2="262.30" y2="45.60" stroke="#222" stroke-width="1" />
<text x="258.40000000000003" y="49.29999999999998" font-size="11" text-anchor="end" font-family="Liberation Serif, serif" fill="#111" stroke="#111" stroke-width="0.25" >25</text>
<line x1="259.40" y1="23.40" x2="262.30" y2="23.40" stroke="#222" stroke-width="1" />
<text x="258.40000000000003" y="27.099999999999977" font-size="11" text-anchor="end" font-family="Liberation Serif, serif" fill="#111" stroke="#111" stroke-width="0.25" >30</text>
<line x1="267.20" y1="156.60" x2="267.20" y2="159.50" stroke="#222" stroke-width="1" />
<text x="267.2" y="170.6" font-size="11.3" text-anchor="middle" font-family="Liberation Serif, serif" fill="#111" stroke="#111" stroke-width="0.25" >3</text>
<line x1="302.50" y1="156.60" x2="302.50" y2="159.50" stroke="#222" stroke-width="1" />
<text x="302.5" y="170.6" font-size="11.3" text-anchor="middle" font-family="Liberation Serif, serif" fill="#111" stroke="#111" stroke-width="0.25" >24</text>
<text x="287.8" y="181.6" font-size="12" text-anchor="middle" font-family="Liberation Serif, serif" fill="#111" stroke="#111" stroke-width="0.25" >Days</text>
<text transform="translate(241.3,91.2) rotate(-90)" font-size="12.8" text-anchor="middle" font-family="Liberation Serif, serif" fill="#111" stroke="#111" stroke-width="0.25" textLength="126.6" lengthAdjust="spacingAndGlyphs">Urinary Na<tspan font-size="8" dy="-4.5">+</tspan><tspan dy="4.5">/creatinine</tspan></text>
<line x1="267.20" y1="150.92" x2="302.50" y2="150.92" stroke="#666" stroke-width="0.75" />
<line x1="267.20" y1="149.94" x2="302.50" y2="100.66" stroke="#666" stroke-width="0.75" />
<line x1="267.20" y1="149.94" x2="302.50" y2="45.16" stroke="#666" stroke-width="0.75" />
<line x1="302.50" y1="27.40" x2="302.50" y2="62.47" stroke="#999" stroke-width="0.8" />
<line x1="300.80" y1="27.40" x2="304.20" y2="27.40" stroke="#999" stroke-width="0.8" />
<line x1="300.80" y1="62.47" x2="304.20" y2="62.47" stroke="#999" stroke-width="0.8" />
<rect x="265.25" y="148.97" width="3.90" height="3.90" fill="#fff" stroke="#333" stroke-width="0.8"/>
<rect x="300.35" y="149.23" width="3.90" height="3.90" fill="#fff" stroke="#333" stroke-width="0.8"/>
<line x1="302.30" y1="149.18" x2="302.30" y2="153.18" stroke="#999" stroke-width="0.7" />
<circle cx="267.20" cy="149.94" r="2.25" fill="none" stroke="#333" stroke-width="0.8"/>
<circle cx="302.20" cy="100.66" r="2.35" fill="#fff" stroke="#333" stroke-width="0.8"/>
<polygon points="267.20,147.51 264.68,152.38 269.72,152.38" fill="none" stroke="#222" stroke-width="0.9" stroke-linejoin="miter"/>
<polygon points="302.50,42.21 299.47,48.06 305.53,48.06" fill="#fff" stroke="#222" stroke-width="0.9" stroke-linejoin="miter"/>
<line x1="353.00" y1="22.90" x2="353.00" y2="157.10" stroke="#222" stroke-width="1" />
<line x1="352.50" y1="156.60" x2="396.10" y2="156.60" stroke="#222" stroke-width="1" />
<line x1="350.10" y1="156.50" x2="353.00" y2="156.50" stroke="#222" stroke-width="1" />
<text x="348.8" y="160.2" font-size="11" text-anchor="end" font-family="Liberation Serif, serif" fill="#111" stroke="#111" stroke-width="0.25" >0.0</text>
<line x1="350.10" y1="134.20" x2="353.00" y2="134.20" stroke="#222" stroke-width="1" />
<text x="348.8" y="137.89999999999998" font-size="11" text-anchor="end" font-family="Liberation Serif, serif" fill="#111" stroke="#111" stroke-width="0.25" >0.5</text>
<line x1="350.10" y1="111.90" x2="353.00" y2="111.90" stroke="#222" stroke-width="1" />
<text x="348.8" y="115.60000000000001" font-size="11" text-anchor="end" font-family="Liberation Serif, serif" fill="#111" stroke="#111" stroke-width="0.25" >1.0</text>
<line x1="350.10" y1="89.60" x2="353.00" y2="89.60" stroke="#222" stroke-width="1" />
<text x="348.8" y="93.3" font-size="11" text-anchor="end" font-family="Liberation Serif, serif" fill="#111" stroke="#111" stroke-width="0.25" >1.5</text>
<line x1="350.10" y1="67.30" x2="353.00" y2="67.30" stroke="#222" stroke-width="1" />
<text x="348.8" y="71.0" font-size="11" text-anchor="end" font-family="Liberation Serif, serif" fill="#111" stroke="#111" stroke-width="0.25" >2.0</text>
<line x1="350.10" y1="45.00" x2="353.00" y2="45.00" stroke="#222" stroke-width="1" />
<text x="348.8" y="48.7" font-size="11" text-anchor="end" font-family="Liberation Serif, serif" fill="#111" stroke="#111" stroke-width="0.25" >2.5</text>
<line x1="350.10" y1="22.70" x2="353.00" y2="22.70" stroke="#222" stroke-width="1" />
<text x="348.8" y="26.399999999999988" font-size="11" text-anchor="end" font-family="Liberation Serif, serif" fill="#111" stroke="#111" stroke-width="0.25" >3.0</text>
<line x1="357.70" y1="156.60" x2="357.70" y2="159.50" stroke="#222" stroke-width="1" />
<text x="357.7" y="170.6" font-size="11.3" text-anchor="middle" font-family="Liberation Serif, serif" fill="#111" stroke="#111" stroke-width="0.25" >3</text>
<line x1="392.90" y1="156.60" x2="392.90" y2="159.50" stroke="#222" stroke-width="1" />
<text x="392.9" y="170.6" font-size="11.3" text-anchor="middle" font-family="Liberation Serif, serif" fill="#111" stroke="#111" stroke-width="0.25" >24</text>
<text x="377.5" y="182.6" font-size="12" text-anchor="middle" font-family="Liberation Serif, serif" fill="#111" stroke="#111" stroke-width="0.25" >Days</text>
<text transform="translate(331.3,91.4) rotate(-90)" font-size="12.8" text-anchor="middle" font-family="Liberation Serif, serif" fill="#111" stroke="#111" stroke-width="0.25" textLength="119.2" lengthAdjust="spacingAndGlyphs">Urinary K<tspan font-size="8" dy="-4.5">+</tspan><tspan dy="4.5">/creatinine</tspan></text>
<line x1="357.70" y1="99.99" x2="392.90" y2="103.20" stroke="#666" stroke-width="0.75" />
<line x1="357.70" y1="83.58" x2="392.90" y2="90.05" stroke="#666" stroke-width="0.75" />
<line x1="357.70" y1="104.99" x2="392.90" y2="96.74" stroke="#666" stroke-width="0.75" />
<line x1="357.70" y1="85.14" x2="357.70" y2="110.56" stroke="#aaa" stroke-width="1.3" />
<rect x="355.75" y="98.04" width="3.90" height="3.90" fill="#fff" stroke="#333" stroke-width="0.8"/>
<rect x="390.87" y="101.17" width="4.07" height="4.07" fill="#fff" stroke="#333" stroke-width="0.8"/>
<circle cx="357.70" cy="99.99" r="2.25" fill="none" stroke="#333" stroke-width="0.8"/>
<circle cx="357.70" cy="83.58" r="2.35" fill="#fff" stroke="#333" stroke-width="0.8"/>
<circle cx="392.90" cy="90.05" r="2.35" fill="#fff" stroke="#333" stroke-width="0.8"/>
<polygon points="357.70,102.37 355.05,107.49 360.35,107.49" fill="#fff" stroke="#222" stroke-width="0.9" stroke-linejoin="miter"/>
<polygon points="392.90,93.98 390.13,99.34 395.67,99.34" fill="#fff" stroke="#222" stroke-width="0.9" stroke-linejoin="miter"/>
<defs><filter id="b1" x="-20%" y="-200%" width="140%" height="500%"><feGaussianBlur stdDeviation="0.9 0.7"/></filter><filter id="b2" x="-20%" y="-200%" width="140%" height="500%"><feGaussianBlur stdDeviation="1.2 1.1"/></filter><filter id="b3" x="-20%" y="-50%" width="140%" height="200%"><feGaussianBlur stdDeviation="3"/></filter></defs>
<rect x="73" y="204" width="143" height="36" fill="#f9f9f9" filter="url(#b2)"/>
<rect x="73" y="241.5" width="143" height="38" fill="#f0f0f0" filter="url(#b2)"/>
<rect x="73" y="286" width="143" height="25" fill="#fafafa" filter="url(#b2)"/>
<rect x="73" y="318" width="143" height="39" fill="#f4f4f4" filter="url(#b2)"/>
<rect x="75.4" y="223.80" width="15.6" height="2.6" rx="1.3" fill="#666" opacity="0.85" filter="url(#b1)"/>
<rect x="97.0" y="223.80" width="17.0" height="2.6" rx="1.3" fill="#666" opacity="0.85" filter="url(#b1)"/>
<rect x="119.8" y="223.80" width="16.9" height="2.6" rx="1.3" fill="#666" opacity="0.85" filter="url(#b1)"/>
<rect x="142.8" y="224.50" width="15.8" height="2.8" rx="1.4" fill="#000" opacity="1" filter="url(#b1)"/>
<rect x="165.0" y="224.80" width="14.0" height="2.8" rx="1.4" fill="#000" opacity="1" filter="url(#b1)" transform="rotate(4 172.0 226.2)"/>
<rect x="186.5" y="224.30" width="16.7" height="2.8" rx="1.4" fill="#000" opacity="1" filter="url(#b1)" transform="rotate(-2 194.8 225.7)"/>
<rect x="74.8" y="255.00" width="19.0" height="3" rx="1.5" fill="#666" opacity="0.75" filter="url(#b1)"/>
<rect x="98.5" y="255.00" width="18.5" height="3" rx="1.5" fill="#666" opacity="0.75" filter="url(#b1)"/>
<rect x="122.0" y="255.00" width="17.0" height="3" rx="1.5" fill="#666" opacity="0.75" filter="url(#b1)"/>
<rect x="74.3" y="265.70" width="20.7" height="4.2" rx="1.5" fill="#2a2a2a" opacity="0.88" filter="url(#b1)"/>
<rect x="97.8" y="265.70" width="20.2" height="4.2" rx="1.5" fill="#2a2a2a" opacity="0.88" filter="url(#b1)"/>
<rect x="120.8" y="265.70" width="18.7" height="4.2" rx="1.5" fill="#2a2a2a" opacity="0.88" filter="url(#b1)"/>
<rect x="141.5" y="256.60" width="19.3" height="2.8" rx="1.4" fill="#111" opacity="0.95" filter="url(#b1)"/>
<rect x="165.0" y="256.90" width="18.5" height="2.6" rx="1.3" fill="#444" opacity="0.85" filter="url(#b1)"/>
<rect x="188.3" y="254.50" width="19.7" height="3.6" rx="1.5" fill="#000" opacity="1" filter="url(#b1)" transform="rotate(-1.5 198.2 256.3)"/>
<rect x="141.3" y="265.70" width="19.7" height="4.2" rx="1.5" fill="#484848" opacity="0.85" filter="url(#b1)"/>
<rect x="164.3" y="265.70" width="19.7" height="4.2" rx="1.5" fill="#484848" opacity="0.85" filter="url(#b1)"/>
<rect x="187.7" y="265.70" width="20.3" height="4.2" rx="1.5" fill="#484848" opacity="0.85" filter="url(#b1)"/>
<rect x="74.0" y="296.90" width="20.3" height="3.2" rx="1.5" fill="#000" opacity="1" filter="url(#b1)"/>
<rect x="97.4" y="297.10" width="19.2" height="3.2" rx="1.5" fill="#000" opacity="1" filter="url(#b1)"/>
<rect x="119.2" y="296.90" width="19.6" height="3.2" rx="1.5" fill="#000" opacity="1" filter="url(#b1)"/>
<rect x="142.0" y="297.40" width="18.7" height="3.2" rx="1.5" fill="#000" opacity="1" filter="url(#b1)"/>
<rect x="164.7" y="297.40" width="19.1" height="3.2" rx="1.5" fill="#000" opacity="1" filter="url(#b1)"/>
<rect x="187.6" y="296.60" width="22.0" height="3.2" rx="1.5" fill="#000" opacity="1" filter="url(#b1)"/>
<rect x="72.5" y="330" width="22.0" height="19" fill="#999" opacity="0.28" filter="url(#b2)"/>
<rect x="72.5" y="331.50" width="22.0" height="3" rx="1.5" fill="#999" opacity="0.55" filter="url(#b2)"/>
<rect x="72.5" y="337.80" width="22.0" height="3" rx="1.5" fill="#888" opacity="0.6" filter="url(#b2)"/>
<rect x="72.5" y="343.20" width="22.0" height="3" rx="1.5" fill="#777" opacity="0.65" filter="url(#b2)"/>
<rect x="96" y="330" width="21.3" height="19" fill="#999" opacity="0.28" filter="url(#b2)"/>
<rect x="96.0" y="331.50" width="21.3" height="3" rx="1.5" fill="#999" opacity="0.55" filter="url(#b2)"/>
<rect x="96.0" y="337.80" width="21.3" height="3" rx="1.5" fill="#888" opacity="0.6" filter="url(#b2)"/>
<rect x="96.0" y="343.20" width="21.3" height="3" rx="1.5" fill="#777" opacity="0.65" filter="url(#b2)"/>
<rect x="119" y="330" width="20.5" height="19" fill="#999" opacity="0.28" filter="url(#b2)"/>
<rect x="119.0" y="331.50" width="20.5" height="3" rx="1.5" fill="#999" opacity="0.55" filter="url(#b2)"/>
<rect x="119.0" y="337.80" width="20.5" height="3" rx="1.5" fill="#888" opacity="0.6" filter="url(#b2)"/>
<rect x="119.0" y="343.20" width="20.5" height="3" rx="1.5" fill="#777" opacity="0.65" filter="url(#b2)"/>
<rect x="141.3" y="329" width="21.2" height="20" fill="#888" opacity="0.35" filter="url(#b2)"/>
<rect x="141.3" y="329.90" width="21.2" height="3.8" rx="1.5" fill="#555" opacity="0.8" filter="url(#b2)"/>
<rect x="141.3" y="337.10" width="21.2" height="3" rx="1.5" fill="#666" opacity="0.7" filter="url(#b2)"/>
<rect x="141.3" y="342.20" width="21.2" height="2.8" rx="1.4" fill="#555" opacity="0.7" filter="url(#b2)"/>
<rect x="163.8" y="329" width="21.5" height="20" fill="#888" opacity="0.35" filter="url(#b2)"/>
<rect x="163.8" y="329.90" width="21.5" height="3.8" rx="1.5" fill="#555" opacity="0.5" filter="url(#b2)"/>
<rect x="163.8" y="337.10" width="21.5" height="3" rx="1.5" fill="#666" opacity="0.7" filter="url(#b2)"/>
<rect x="163.8" y="342.20" width="21.5" height="2.8" rx="1.4" fill="#555" opacity="0.7" filter="url(#b2)"/>
<rect x="187" y="329" width="23.3" height="20" fill="#888" opacity="0.35" filter="url(#b2)"/>
<rect x="187.0" y="329.90" width="23.3" height="3.8" rx="1.5" fill="#555" opacity="0.85" filter="url(#b2)"/>
<rect x="187.0" y="337.10" width="23.3" height="3" rx="1.5" fill="#666" opacity="0.7" filter="url(#b2)"/>
<rect x="187.0" y="342.20" width="23.3" height="2.8" rx="1.4" fill="#555" opacity="0.7" filter="url(#b2)"/>
<rect x="71.6" y="347.90" width="23.4" height="6" rx="1.5" fill="#000" opacity="1" filter="url(#b1)"/>
<rect x="95.6" y="347.90" width="22.0" height="6" rx="1.5" fill="#000" opacity="1" filter="url(#b1)"/>
<rect x="118.4" y="347.90" width="21.4" height="6" rx="1.5" fill="#000" opacity="1" filter="url(#b1)"/>
<rect x="140.6" y="347.90" width="22.4" height="6" rx="1.5" fill="#000" opacity="1" filter="url(#b1)"/>
<rect x="163.2" y="347.90" width="22.8" height="6" rx="1.5" fill="#000" opacity="1" filter="url(#b1)"/>
<rect x="186.6" y="347.90" width="24.0" height="6" rx="1.5" fill="#000" opacity="1" filter="url(#b1)"/>
<line x1="139.80" y1="196.00" x2="139.80" y2="362.00" stroke="#222" stroke-width="0.9" stroke-dasharray="3,1.6"/>
<text x="10.5" y="227.2" font-size="13.8" text-anchor="start" font-family="Liberation Serif, serif" fill="#111" stroke="#111" stroke-width="0.25" >pACC</text>
<text x="3.3" y="259.9" font-size="13.8" text-anchor="start" font-family="Liberation Serif, serif" fill="#111" stroke="#111" stroke-width="0.25" >pThr172</text>
<text x="7.2" y="303.3" font-size="13.8" text-anchor="start" font-family="Liberation Serif, serif" fill="#111" stroke="#111" stroke-width="0.25" >β-Actin</text>
<text x="6.7" y="336.7" font-size="13.8" text-anchor="start" font-family="Liberation Serif, serif" fill="#111" stroke="#111" stroke-width="0.25" >AMPKα</text>
<text x="16.6" y="352.2" font-size="13.8" text-anchor="start" font-family="Liberation Serif, serif" fill="#111" stroke="#111" stroke-width="0.25" >total</text>
<path d="M59.8 224.2 H65" stroke="#000" stroke-width="1.4" fill="none"/><path d="M63.6 221.7 L68 224.2 L63.6 226.7 Z" fill="#000"/>
<path d="M59.8 254.5 H65" stroke="#000" stroke-width="1.4" fill="none"/><path d="M63.6 252.0 L68 254.5 L63.6 257.0 Z" fill="#000"/>
<path d="M59.8 298.9 H65" stroke="#000" stroke-width="1.4" fill="none"/><path d="M63.6 296.4 L68 298.9 L63.6 301.4 Z" fill="#000"/>
<path d="M59.8 331.7 H65" stroke="#000" stroke-width="1.4" fill="none"/><path d="M63.6 329.2 L68 331.7 L63.6 334.2 Z" fill="#000"/>
<text x="57.8" y="207.6" font-size="5.8" text-anchor="start" font-family="Liberation Serif, serif" fill="#000" stroke="#000" stroke-width="0.25" font-weight="bold">kDa</text>
<text x="64.6" y="236.5" font-size="5.6" text-anchor="end" font-family="Liberation Serif, serif" fill="#000" stroke="#000" stroke-width="0.25" font-weight="bold">225</text>
<line x1="65.70" y1="234.60" x2="71.00" y2="234.60" stroke="#000" stroke-width="1.3" />
<text x="64.6" y="248.6" font-size="5.6" text-anchor="end" font-family="Liberation Serif, serif" fill="#000" stroke="#000" stroke-width="0.25" font-weight="bold">76</text>
<line x1="65.70" y1="246.70" x2="71.00" y2="246.70" stroke="#000" stroke-width="1.3" />
<text x="64.6" y="281.29999999999995" font-size="5.6" text-anchor="end" font-family="Liberation Serif, serif" fill="#000" stroke="#000" stroke-width="0.25" font-weight="bold">52</text>
<line x1="65.70" y1="279.40" x2="71.00" y2="279.40" stroke="#000" stroke-width="1.3" />
<text x="64.6" y="325.7" font-size="5.6" text-anchor="end" font-family="Liberation Serif, serif" fill="#000" stroke="#000" stroke-width="0.25" font-weight="bold">76</text>
<line x1="65.70" y1="323.80" x2="71.00" y2="323.80" stroke="#000" stroke-width="1.3" />
<text x="64.6" y="358.79999999999995" font-size="5.6" text-anchor="end" font-family="Liberation Serif, serif" fill="#000" stroke="#000" stroke-width="0.25" font-weight="bold">52</text>
<line x1="65.70" y1="356.90" x2="71.00" y2="356.90" stroke="#000" stroke-width="1.3" />
<path d="M72.4 359.5 V367.2 H139.8 V361 M143.3 359.5 V367.2 H210.7 V359.5" fill="none" stroke="#555" stroke-width="0.8"/>
<text x="103" y="381.2" font-size="12" text-anchor="middle" font-family="Liberation Serif, serif" fill="#111" stroke="#111" stroke-width="0.25" >0.4% NaCl</text>
<text x="174.4" y="381.2" font-size="12" text-anchor="middle" font-family="Liberation Serif, serif" fill="#111" stroke="#111" stroke-width="0.25" >8% NaCl</text>
<rect x="227.5" y="265" width="3" height="78" fill="#e4e4e4" opacity="0.5" filter="url(#b3)"/>
<line x1="271.40" y1="234.80" x2="271.40" y2="347.00" stroke="#555" stroke-width="1" />
<line x1="270.90" y1="346.50" x2="394.60" y2="346.50" stroke="#444" stroke-width="1" />
<line x1="269.00" y1="346.50" x2="271.40" y2="346.50" stroke="#444" stroke-width="0.9" />
<text x="268.7" y="350.1" font-size="11" text-anchor="end" font-family="Liberation Serif, serif" fill="#111" stroke="#111" stroke-width="0.25" >0</text>
<line x1="269.00" y1="309.30" x2="271.40" y2="309.30" stroke="#444" stroke-width="0.9" />
<text x="268.7" y="312.90000000000003" font-size="11" text-anchor="end" font-family="Liberation Serif, serif" fill="#111" stroke="#111" stroke-width="0.25" >1</text>
<line x1="269.00" y1="272.10" x2="271.40" y2="272.10" stroke="#444" stroke-width="0.9" />
<text x="268.7" y="275.70000000000005" font-size="11" text-anchor="end" font-family="Liberation Serif, serif" fill="#111" stroke="#111" stroke-width="0.25" >2</text>
<line x1="269.00" y1="234.90" x2="271.40" y2="234.90" stroke="#444" stroke-width="0.9" />
<text x="268.7" y="238.49999999999997" font-size="11" text-anchor="end" font-family="Liberation Serif, serif" fill="#111" stroke="#111" stroke-width="0.25" >3</text>
<line x1="270.00" y1="327.90" x2="271.40" y2="327.90" stroke="#666" stroke-width="0.8" />
<line x1="270.00" y1="290.70" x2="271.40" y2="290.70" stroke="#666" stroke-width="0.8" />
<line x1="270.00" y1="253.50" x2="271.40" y2="253.50" stroke="#666" stroke-width="0.8" />
<text transform="translate(253.5,278.1) rotate(-90)" font-size="12.8" text-anchor="middle" font-family="Liberation Serif, serif" fill="#111" stroke="#111" stroke-width="0.25" textLength="96.8" lengthAdjust="spacingAndGlyphs">Relative abundance</text>
<line x1="284.65" y1="309.30" x2="284.65" y2="303.72" stroke="#777" stroke-width="0.8" />
<line x1="283.35" y1="303.72" x2="285.95" y2="303.72" stroke="#777" stroke-width="0.8" />
<rect x="276.6" y="309.3" width="16.5" height="37.2" fill="#c0c0c0" stroke="#555" stroke-width="0.8"/>
<line x1="301.55" y1="269.87" x2="301.55" y2="260.20" stroke="#666" stroke-width="0.8" />
<line x1="300.25" y1="260.20" x2="302.85" y2="260.20" stroke="#666" stroke-width="0.8" />
<rect x="293.1" y="269.9" width="17.2" height="77.1" fill="#000"/>
<text x="300.94999999999993" y="260.796" font-size="9.5" text-anchor="middle" font-family="Liberation Serif, serif" fill="#333" stroke="#333" stroke-width="0.25" >*</text>
<line x1="326.55" y1="309.30" x2="326.55" y2="303.72" stroke="#777" stroke-width="0.8" />
<line x1="325.25" y1="303.72" x2="327.85" y2="303.72" stroke="#777" stroke-width="0.8" />
<rect x="318.5" y="309.3" width="16.5" height="37.2" fill="#c0c0c0" stroke="#555" stroke-width="0.8"/>
<line x1="343.45" y1="260.94" x2="343.45" y2="255.73" stroke="#666" stroke-width="0.8" />
<line x1="342.15" y1="255.73" x2="344.75" y2="255.73" stroke="#666" stroke-width="0.8" />
<rect x="335.0" y="260.9" width="17.2" height="86.1" fill="#000"/>
<text x="342.84999999999997" y="256.332" font-size="9.5" text-anchor="middle" font-family="Liberation Serif, serif" fill="#333" stroke="#333" stroke-width="0.25" >*</text>
<line x1="368.75" y1="309.30" x2="368.75" y2="303.72" stroke="#777" stroke-width="0.8" />
<line x1="367.45" y1="303.72" x2="370.05" y2="303.72" stroke="#777" stroke-width="0.8" />
<rect x="360.7" y="309.3" width="16.5" height="37.2" fill="#c0c0c0" stroke="#555" stroke-width="0.8"/>
<line x1="385.65" y1="259.45" x2="385.65" y2="249.59" stroke="#666" stroke-width="0.8" />
<line x1="384.35" y1="249.59" x2="386.95" y2="249.59" stroke="#666" stroke-width="0.8" />
<rect x="377.2" y="259.5" width="17.2" height="87.5" fill="#000"/>
<text x="385.04999999999995" y="250.194" font-size="9.5" text-anchor="middle" font-family="Liberation Serif, serif" fill="#333" stroke="#333" stroke-width="0.25" >*</text>
<text x="291" y="359.2" font-size="10.8" text-anchor="middle" font-family="Liberation Serif, serif" fill="#111" stroke="#111" stroke-width="0.25" >pThr172</text>
<text x="334.5" y="359.2" font-size="10.8" text-anchor="middle" font-family="Liberation Serif, serif" fill="#111" stroke="#111" stroke-width="0.25" >pACC</text>
<text x="378.4" y="359.2" font-size="10.8" text-anchor="middle" font-family="Liberation Serif, serif" fill="#111" stroke="#111" stroke-width="0.25" >AMPKα</text>
<text x="378.8" y="372.6" font-size="10.8" text-anchor="middle" font-family="Liberation Serif, serif" fill="#111" stroke="#111" stroke-width="0.25" >total</text>
<rect x="331.2" y="215.3" width="9.2" height="9.2" fill="#c0c0c0" stroke="#333" stroke-width="0.9"/>
<rect x="330.4" y="228.9" width="10.4" height="9.8" fill="#000"/>
<text x="344.3" y="223.3" font-size="10.6" text-anchor="start" font-family="Liberation Serif, serif" fill="#111" stroke="#111" stroke-width="0.25" >0.4% NaCl</text>
<text x="345.8" y="237.8" font-size="10.6" text-anchor="start" font-family="Liberation Serif, serif" fill="#111" stroke="#111" stroke-width="0.25" >8% NaCl</text>
</svg>
</body></html>
